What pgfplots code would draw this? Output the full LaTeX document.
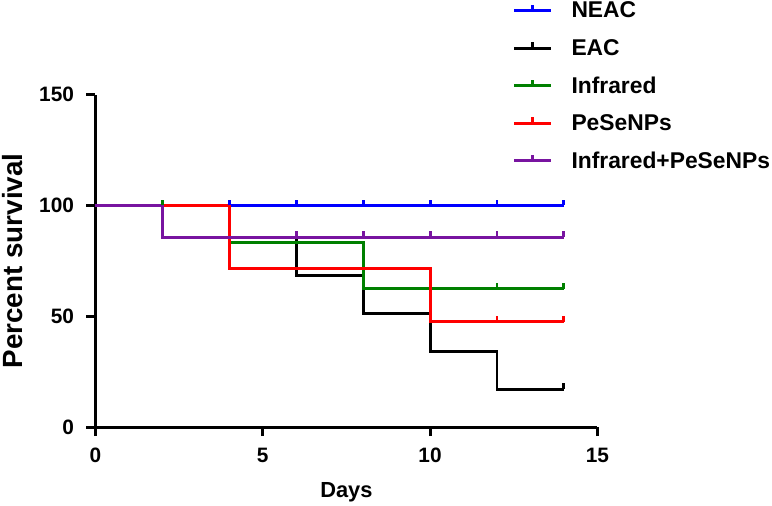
\documentclass[border=0pt]{standalone}
\usepackage{fontspec}
\setmainfont{Liberation Sans}
\usepackage{pgfplots}
\pgfplotsset{compat=1.18}
\definecolor{cNEAC}{RGB}{0,0,255}
\definecolor{cEAC}{RGB}{0,0,0}
\definecolor{cIR}{RGB}{0,128,0}
\definecolor{cPe}{RGB}{255,0,0}
\definecolor{cIRPe}{RGB}{120,20,160}
% censor tick: short upward stroke
\pgfdeclareplotmark{censor}{%
  \pgfpathmoveto{\pgfqpoint{0pt}{0pt}}%
  \pgfpathlineto{\pgfqpoint{0pt}{\pgfplotmarksize}}%
  \pgfusepathqstroke}
\begin{document}
\begin{tikzpicture}
\begin{axis}[
  scale only axis, width=504bp, height=334bp,
  xmin=0, xmax=15, ymin=0, ymax=150,
  axis lines=left, axis line style={-, line width=3bp},
  xtick={0,5,10,15}, ytick={0,50,100,150},
  tick align=outside, major tick length=9bp,
  tick style={line width=3bp, black},
  /pgf/number format/assume math mode=true,
  ticklabel style={font=\fontsize{21}{25}\selectfont\bfseries},
  xticklabel style={yshift=-8bp},
  yticklabel style={xshift=-9bp},
  xlabel={Days}, ylabel={Percent survival},
  xlabel style={font=\fontsize{22}{26}\selectfont\bfseries, at={(axis description cs:0.5,0)}, anchor=base, yshift=-71bp},
  ylabel style={font=\fontsize{28}{32}\selectfont\bfseries, at={(axis description cs:-0.1905,0.5)}, anchor=north, inner sep=2bp},
  clip=false,
  legend style={at={(axis description cs:0.831,1.285)}, anchor=north west, draw=none, fill=none,
    font=\fontsize{23}{27}\selectfont\bfseries, row sep=16bp, inner sep=0pt},
  legend cell align=left,
  legend image code/.code={%
    \draw[#1] (0bp,0bp) -- (37bp,0bp);
    \draw[#1] (18.5bp,0bp) -- (18.5bp,6bp);
    \path (54bp,0bp);},
  every axis plot/.append style={line width=3bp, mark=censor, mark size=6bp, const plot},
]
\addplot[cNEAC, mark indices={2,3,4,5,6,7}] coordinates {
(0,100) (4,100) (6,100) (8,100) (10,100) (12,100) (14,100)};
\addlegendentry{NEAC}
\addplot[cEAC, mark indices={7}] coordinates {
(0,100) (4,85.7) (6,68.6) (8,51.4) (10,34.3) (12,17.1) (14,17.1)};
\addlegendentry{EAC}
\addplot[cIR, mark indices={2,5,6}] coordinates {
(0,100) (2,100) (4,83.3) (8,62.5) (12,62.5) (14,62.5)};
\addlegendentry{Infrared}
\addplot[cPe, mark indices={4,5}] coordinates {
(0,100) (4,71.4) (10,47.6) (12,47.6) (14,47.6)};
\addlegendentry{PeSeNPs}
\addplot[cIRPe, mark indices={3,4,5,6,7}] coordinates {
(0,100) (2,85.7) (6,85.7) (8,85.7) (10,85.7) (12,85.7) (14,85.7)};
\addlegendentry{Infrared+PeSeNPs}
\end{axis}
\end{tikzpicture}
\end{document}
